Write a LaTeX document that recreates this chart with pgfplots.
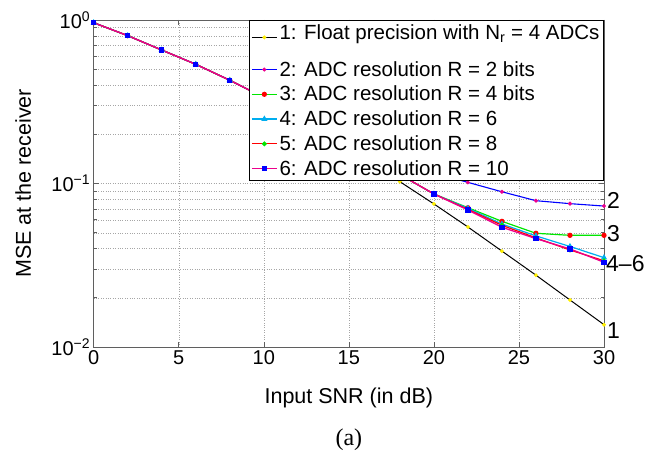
\documentclass[border=0pt]{standalone}
\usepackage{pgfplots}
\pgfplotsset{compat=1.18}
\usepackage{fontspec}
\setmainfont{Liberation Sans}
\newfontfamily\capfont{Liberation Serif}
\definecolor{axgray}{RGB}{95,95,95}
\definecolor{mgreen}{RGB}{0,230,0}
\definecolor{myellow}{RGB}{255,240,0}
\begin{document}
\begin{tikzpicture}
\begin{axis}[
  scale only axis,
  width=510.3pt, height=327pt,
  ymode=log,
  xmin=0, xmax=30, ymin=0.01, ymax=1,
  xtick={0,5,...,30},
  ytick={0.01,0.1,1},
  yticklabels={10\textsuperscript{−2},10\textsuperscript{−1},10\textsuperscript{0}},
  /pgf/number format/assume math mode=true,
  tick label style={font=\fontsize{20}{22}\selectfont},
  label style={font=\fontsize{21.5}{24}\selectfont},
  xlabel={Input SNR (in dB)},
  ylabel={MSE at the receiver},
  xlabel style={at={(axis description cs:0.5,0)}, anchor=center, yshift=-50.6pt},
  ylabel style={at={(axis description cs:0,0.5)}, anchor=center, rotate=0, yshift=70.4pt},
  grid=both,
  major grid style={dotted, gray!70},
  minor grid style={dotted, gray!70},
  axis line style={axgray, line width=0.8pt},
  every tick/.style={axgray, line width=0.6pt},
  major tick length=5pt, minor tick length=3pt,
  tick align=inside,
  xtick pos=both, ytick pos=both,
  clip=false,
  legend cell align=left,
  legend style={at={(0.9995,1)}, anchor=north east, draw=black, line width=0.6pt,
    font=\fontsize{20.5}{22}\selectfont, row sep=4.4pt, inner sep=2pt,
    /tikz/every even column/.append style={column sep=0pt}},
  legend image code/.code={%
    \draw[mark repeat=2, mark phase=2] plot coordinates {(0pt,0pt) (12.5pt,0pt) (25pt,0pt)};},
]
\addplot[black, line width=1pt, mark=*, mark size=1.4pt, mark options={fill=myellow, draw=myellow},
  legend image code/.code={%
    \draw[mark repeat=2, mark phase=2] plot coordinates {(0pt,-5pt) (12.5pt,-5pt) (25pt,-5pt)};
    \path (0pt,-22pt) (0pt,6pt);}] coordinates {
(0,0.962) (2,0.802) (4,0.655) (6,0.536) (8,0.428) (10,0.336) (12,0.258) (14,0.193) (16,0.142) (18,0.1026) (20,0.075) (22,0.0542) (24,0.0386) (26,0.0275) (28,0.0194) (30,0.0137)};
\addlegendentry{1: Float precision with N\textsubscript{r} = 4 ADCs}
\addplot[blue, line width=1.1pt, mark=*, mark size=1.4pt, mark options={fill=magenta, draw=magenta}] coordinates {
(0,0.962) (2,0.802) (4,0.655) (6,0.536) (8,0.428) (10,0.336) (12,0.260) (14,0.205) (16,0.163) (18,0.135) (20,0.116) (22,0.1016) (24,0.089) (26,0.0785) (28,0.0753) (30,0.0728)};
\addlegendentry{2: ADC resolution R = 2 bits}
\addplot[mgreen, line width=1.2pt, mark=*, mark size=2pt, mark options={fill=red, draw=red}] coordinates {
(0,0.962) (2,0.802) (4,0.655) (6,0.536) (8,0.428) (10,0.336) (12,0.259) (14,0.1995) (16,0.151) (18,0.1135) (20,0.0863) (22,0.0711) (24,0.0587) (26,0.0496) (28,0.0482) (30,0.0482)};
\addlegendentry{3: ADC resolution R = 4 bits}
\addplot[cyan, line width=1.2pt, mark=triangle*, mark size=2.4pt, mark options={fill=cyan, draw=cyan}] coordinates {
(0,0.962) (2,0.802) (4,0.655) (6,0.536) (8,0.428) (10,0.336) (12,0.259) (14,0.1995) (16,0.151) (18,0.1135) (20,0.0863) (22,0.0705) (24,0.0565) (26,0.0478) (28,0.0412) (30,0.0352)};
\addlegendentry{4: ADC resolution R = 6}
\addplot[red, line width=1.2pt, mark=*, mark size=1.8pt, mark options={fill=mgreen, draw=mgreen}] coordinates {
(0,0.962) (2,0.802) (4,0.655) (6,0.536) (8,0.428) (10,0.336) (12,0.259) (14,0.1995) (16,0.151) (18,0.1135) (20,0.0863) (22,0.0695) (24,0.0555) (26,0.0465) (28,0.0392) (30,0.0337)};
\addlegendentry{5: ADC resolution R = 8}
\addplot[magenta, line width=1.3pt, mark=square*, mark size=2pt, mark options={fill=blue, draw=blue}] coordinates {
(0,0.962) (2,0.802) (4,0.655) (6,0.536) (8,0.428) (10,0.336) (12,0.259) (14,0.1995) (16,0.151) (18,0.1135) (20,0.0863) (22,0.0689) (24,0.054) (26,0.046) (28,0.0398) (30,0.0330)};
\addlegendentry{6: ADC resolution R = 10}
\node[anchor=west, inner sep=0pt, font=\fontsize{23}{25}\selectfont] at ([xshift=3pt]axis cs:30,0.0785) {2};
\node[anchor=west, inner sep=0pt, font=\fontsize{23}{25}\selectfont] at ([xshift=3pt]axis cs:30,0.0496) {3};
\node[anchor=west, inner sep=0pt, font=\fontsize{23}{25}\selectfont] at ([xshift=2pt]axis cs:30,0.0322) {4–6};
\node[anchor=west, inner sep=0pt, font=\fontsize{23}{25}\selectfont] at ([xshift=3pt]axis cs:30,0.0126) {1};
\end{axis}
\node[font=\capfont\fontsize{24}{26}\selectfont] at ([yshift=-92.6pt]current axis.south) {(a)};
\pgfresetboundingbox
\path[use as bounding box] ([shift={(-93.7pt,-107pt)}]current axis.south west) rectangle ([shift={(58pt,20pt)}]current axis.north east);
\end{tikzpicture}
\end{document}
